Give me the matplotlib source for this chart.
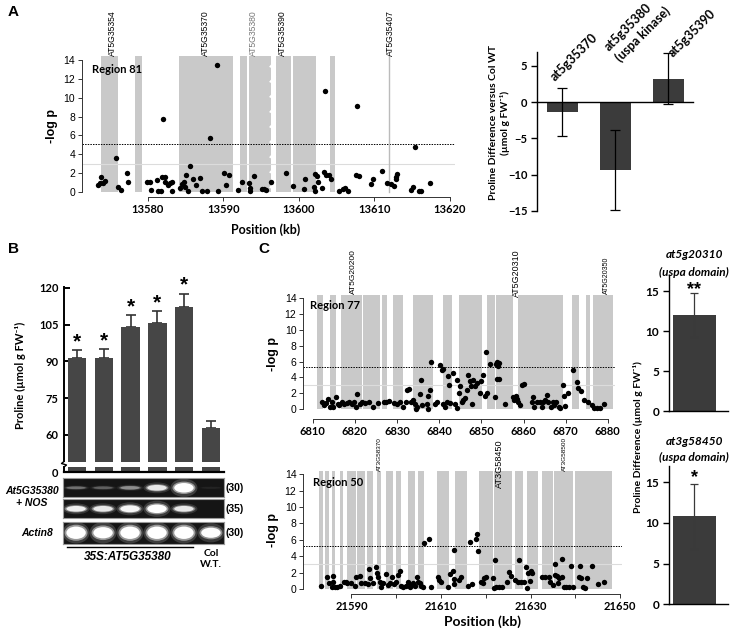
import numpy as np
import matplotlib.pyplot as plt
from matplotlib.patches import Ellipse
from matplotlib.lines import Line2D

# ---------------- datos ----------------
# Panel A (region 81): posicion (kb) y -log p
pos_a = [13573.47, 13573.64, 13573.82, 13574.04, 13574.35, 13575.81, 13576.03, 13576.42,
         13577.31, 13577.35, 13579.96, 13580.26, 13580.40, 13581.24, 13581.37, 13581.77,
         13581.90, 13582.08, 13582.25, 13582.34, 13582.69, 13582.91, 13583.27, 13583.27,
         13584.24, 13584.59, 13584.81, 13584.94, 13585.12, 13585.34, 13585.56, 13586.00,
         13586.45, 13586.89, 13587.20, 13587.86, 13588.30, 13589.14, 13589.36, 13590.15,
         13590.42, 13590.77, 13592.00, 13592.50, 13593.43, 13593.60, 13593.51, 13594.09,
         13595.15, 13595.37, 13595.72, 13596.38, 13598.28, 13599.25, 13600.71, 13600.89,
         13602.03, 13602.12, 13602.21, 13602.48, 13602.61, 13603.09, 13603.32, 13603.49,
         13603.58, 13604.02, 13604.24, 13605.30, 13605.88, 13606.14, 13606.54, 13607.55,
         13607.77, 13607.99, 13609.63, 13609.85, 13611.09, 13611.70, 13612.19, 13612.59,
         13612.85, 13613.07, 13612.94, 13614.84, 13615.15, 13615.46, 13615.90, 13616.21,
         13617.35]
logp_a = [0.78, 0.96, 1.56, 0.99, 1.21, 3.65, 0.53, 0.18,
          1.99, 1.03, 1.06, 1.06, 0.18, 1.24, 0.11, 0.11,
          1.60, 7.77, 1.60, 1.06, 0.71, 0.96, 1.06, 0.11,
          0.43, 0.89, 1.06, 0.53, 1.77, 0.07, 2.77, 1.42,
          0.71, 1.52, 0.11, 0.11, 5.78, 13.44, 0.11, 2.02,
          0.78, 1.77, 0.18, 1.06, 0.96, 0.46, 0.11, 1.70,
          0.35, 0.28, 0.25, 1.06, 2.02, 0.60, 0.35, 1.42,
          0.53, 0.11, 1.88, 1.67, 1.06, 0.46, 2.09, 10.71,
          1.81, 1.81, 1.42, 0.11, 0.35, 0.46, 0.11, 1.77,
          9.11, 1.70, 0.89, 1.35, 2.27, 0.96, 0.82, 0.64,
          1.60, 1.95, 1.42, 0.18, 0.53, 4.72, 0.11, 0.07,
          0.96]
genes_a = [(13573.87, 13576.05), (13578.37, 13579.25), (13584.15, 13591.30),
           (13592.28, 13593.15), (13593.40, 13596.36), (13596.95, 13599.00),
           (13599.25, 13602.34), (13604.20, 13604.80)]
nombres_a = ['AT5G35354', 'AT5G35370', 'AT5G35380', 'AT5G35390', 'AT5G35407']
xnombres_a = [13575.4, 13587.6, 13594.0, 13597.9, 13612.1]
linea_a = 13611.96

# Panel A derecha
genes_bar_a = ['at5g35370', 'at5g35380\n(uspa kinase)', 'at5g35390']
dif_a = [-1.4, -9.3, 3.2]
err_a = [3.3, 5.5, 3.5]

# Panel B
prolina_b = [91.3, 91.3, 104.2, 105.7, 112.4, 63.0]
err_b = [3.2, 3.8, 4.6, 4.7, 5.3, 2.7]
sig_b = ['*', '*', '*', '*', '*', '']
gel_intensidad = [[0.25, 0.2, 0.35, 0.75, 1.0, 0.04],
                  [0.8, 0.75, 0.85, 0.95, 0.75, 0.0],
                  [1.0, 1.0, 1.0, 1.0, 1.0, 0.9]]
gel_alto = [[0.14, 0.14, 0.18, 0.3, 0.5, 0.1],
            [0.3, 0.3, 0.36, 0.45, 0.3, 0.0],
            [0.55, 0.5, 0.55, 0.55, 0.55, 0.45]]
gel_ciclos = ['(30)', '(35)', '(30)']

# Panel C arriba (region 77)
pos_c1 = [6812.1, 6812.7, 6813.2, 6813.7, 6814.1, 6814.5, 6814.9, 6815.5, 6815.9, 6816.3,
          6816.9, 6817.4, 6818.1, 6818.6, 6819.3, 6819.8, 6820.3, 6820.6, 6821.1, 6821.6,
          6822.4, 6823.4, 6824.2, 6825.6, 6826.8, 6827.4, 6828.0, 6829.3, 6829.9, 6830.7,
          6831.5, 6832.1, 6832.3, 6832.9, 6833.2, 6833.7, 6834.3, 6834.4, 6834.7, 6835.5,
          6835.7, 6835.9, 6837.0, 6837.3, 6837.4, 6837.8, 6838.0, 6839.0, 6839.4, 6840.1,
          6840.6, 6841.0, 6840.8, 6841.4, 6841.8, 6842.2, 6842.3, 6842.6, 6843.2, 6843.8,
          6844.2, 6844.3, 6844.7, 6845.0, 6845.4, 6845.7, 6846.1, 6846.5, 6846.9, 6847.3,
          6847.5, 6847.7, 6848.1, 6848.5, 6848.9, 6849.7, 6849.9, 6850.5, 6850.9, 6851.1,
          6851.4, 6852.1, 6853.5, 6853.8, 6854.2, 6854.0, 6853.6, 6854.3, 6853.2, 6855.6,
          6857.6, 6857.8, 6858.2, 6858.5, 6858.8, 6859.2, 6859.6, 6860.1, 6862.0, 6862.3,
          6862.5, 6863.1, 6863.8, 6864.3, 6864.7, 6865.1, 6865.5, 6865.9, 6866.5, 6866.9,
          6867.2, 6867.7, 6868.3, 6868.7, 6869.3, 6869.5, 6869.9, 6870.6, 6871.7, 6872.6,
          6873.0, 6873.6, 6874.4, 6875.4, 6876.2, 6876.7, 6877.4, 6878.2, 6879.1]
logp_c1 = [0.85, 0.55, 0.76, 1.27, 0.34, 0.85, 0.34, 1.52, 0.68, 0.55,
           0.85, 0.63, 0.76, 0.97, 0.68, 0.85, 0.34, 1.95, 0.63, 0.97,
           0.76, 0.97, 0.25, 0.76, 0.85, 0.97, 1.06, 0.76, 0.63, 0.85,
           0.25, 0.85, 2.45, 2.58, 0.97, 1.18, 0.63, 0.05, 0.34, 1.95,
           3.72, 0.55, 0.63, 0.05, 1.69, 2.37, 5.92, 0.68, 0.97, 5.54,
           4.99, 5.12, 0.68, 0.34, 0.97, 4.15, 3.00, 0.76, 4.57, 0.63,
           3.64, 0.21, 2.03, 2.88, 0.97, 1.18, 1.40, 2.45, 4.36, 3.55,
           2.88, 0.68, 3.72, 2.88, 3.30, 2.03, 3.51, 4.27, 1.61, 7.19,
           2.03, 5.75, 5.75, 5.92, 5.84, 5.41, 3.80, 3.80, 1.48, 0.63,
           1.48, 1.18, 1.69, 1.27, 0.85, 0.55, 3.00, 3.17, 0.97, 1.48,
           0.34, 0.97, 0.85, 0.34, 0.97, 1.18, 1.82, 0.97, 0.34, 0.97,
           0.55, 0.97, 0.34, 0.13, 3.00, 1.61, 0.42, 2.03, 4.90, 3.38,
           2.66, 2.24, 1.18, 0.85, 0.55, 0.21, 0.21, 0.13, 0.63]
genes_c1 = [(6810.95, 6812.37), (6814.1, 6815.46), (6816.7, 6821.6), (6821.9, 6826.0),
            (6826.5, 6827.6), (6829.1, 6831.5), (6833.7, 6838.5), (6841.0, 6843.0),
            (6844.7, 6850.1), (6851.4, 6853.2), (6853.5, 6857.6), (6858.8, 6869.3),
            (6871.6, 6873.2), (6874.8, 6875.8), (6876.6, 6881.3)]
nombres_c1 = ['AT5G20200', 'AT5G20310', 'AT5G20350']
xnombres_c1 = [6819.6, 6858.4, 6879.75]

# Panel C abajo (region 50)
pos_c2 = [21583.3, 21584.6, 21585.0, 21585.6, 21585.8, 21585.9, 21586.3, 21586.8, 21587.4, 21588.3,
          21588.7, 21589.0, 21589.8, 21590.7, 21591.1, 21591.9, 21592.2, 21593.0, 21593.7, 21593.9,
          21594.2, 21594.8, 21595.4, 21595.7, 21595.9, 21596.3, 21596.7, 21597.0, 21597.8, 21598.1,
          21598.5, 21599.1, 21599.4, 21600.0, 21600.4, 21600.9, 21601.1, 21601.6, 21602.1, 21602.6,
          21603.0, 21603.3, 21603.7, 21604.1, 21604.6, 21604.8, 21605.2, 21605.6, 21605.9, 21606.3,
          21607.4, 21607.8, 21609.3, 21609.6, 21610.0, 21611.5, 21611.9, 21612.6, 21613.0, 21612.8,
          21613.0, 21614.1, 21614.4, 21616.1, 21616.4, 21616.9, 21617.8, 21618.1, 21618.2, 21618.9,
          21619.3, 21620.0, 21621.5, 21622.1, 21622.2, 21619.6, 21621.8, 21622.9, 21623.5, 21624.8,
          21625.2, 21625.7, 21626.6, 21627.2, 21627.4, 21627.8, 21628.5, 21628.9, 21629.2, 21629.5,
          21629.8, 21630.0, 21630.4, 21632.6, 21633.3, 21634.1, 21634.4, 21635.0, 21635.4, 21635.5,
          21635.9, 21636.1, 21636.4, 21636.9, 21637.0, 21637.4, 21637.9, 21638.5, 21639.1, 21639.4,
          21640.7, 21641.1, 21641.3, 21641.8, 21642.2, 21642.6, 21643.7, 21645.0, 21646.3]
logp_c2 = [0.40, 1.50, 0.70, 0.30, 1.60, 0.90, 0.30, 0.30, 0.40, 0.90,
           0.90, 0.70, 0.70, 0.37, 1.50, 1.60, 0.70, 0.70, 0.60, 2.45,
           1.30, 0.70, 2.70, 2.00, 1.50, 0.90, 0.30, 0.70, 1.80, 0.50,
           0.70, 1.50, 0.60, 0.90, 1.70, 2.20, 0.40, 0.30, 0.40, 0.90,
           0.30, 0.50, 0.70, 0.40, 1.40, 0.90, 0.70, 0.40, 0.30, 5.60,
           6.10, 0.30, 1.50, 1.10, 0.80, 0.30, 1.80, 2.20, 4.75, 1.20,
           0.60, 1.10, 1.50, 0.37, 5.70, 0.60, 6.05, 6.70, 4.67, 0.90,
           0.70, 1.50, 1.30, 3.50, 0.20, 1.30, 0.10, 0.20, 0.20, 0.90,
           2.10, 1.60, 1.10, 0.80, 3.50, 0.90, 0.90, 2.70, 0.10, 1.90,
           1.00, 2.20, 2.00, 1.50, 1.50, 1.50, 0.80, 0.50, 3.00, 1.70,
           1.60, 0.70, 1.30, 3.60, 1.50, 0.30, 0.30, 0.30, 2.80, 0.30,
           1.50, 2.80, 1.30, 0.30, 0.10, 1.30, 2.80, 0.60, 0.80]
genes_c2 = [(21582.7, 21583.7), (21584.1, 21585.0), (21585.6, 21586.4), (21587.4, 21588.1),
            (21589.1, 21591.0), (21591.2, 21593.0), (21593.5, 21594.8), (21595.6, 21596.7),
            (21597.8, 21599.2), (21600.0, 21601.1), (21602.6, 21604.1), (21604.8, 21606.1),
            (21609.2, 21611.8), (21613.1, 21615.9), (21618.4, 21621.5), (21621.8, 21625.9),
            (21626.5, 21628.4), (21629.1, 21631.7), (21632.6, 21635.0), (21635.2, 21639.5),
            (21639.8, 21645.2), (21645.3, 21648.1)]
nombres_c2 = ['AT3G58370', 'AT3G58450', 'AT3G58500']
xnombres_c2 = [21596.3, 21623.0, 21637.6]

# Panel C derecha
titulos_c = ['at5g20310\n(uspa domain)', 'at3g58450\n(uspa domain)']
dif_c = [12.0, 10.8]
err_c = [2.75, 4.0]
sig_c = ['**', '*']

# ---------------- figura ----------------
W, H = 737, 630
fig = plt.figure(figsize=(W / 100, H / 100), dpi=100)
R_FONT = ['Liberation Sans', 'DejaVu Sans']
X_FONT = ['Lato', 'DejaVu Sans']
GRIS = '#c9c9c9'
BARRA = '#3b3b3b'


def ejes(x0, y0, x1, y1):
    # ejes dados en pixeles de la imagen
    return fig.add_axes([x0 / W, 1 - y1 / H, (x1 - x0) / W, (y1 - y0) / H])


def texto(x, y, s, **kw):
    return fig.text(x / W, 1 - y / H, s, **kw)


def manhattan(ax, pos, logp, genes, nombres, xnombres, tam_nombres, y_nombres,
              umbral, region, xregion, xlim, ylim, xticks, xlabels):
    for a, b in genes:
        ax.bar(a, 14.4, width=b - a, align='edge', color=GRIS, linewidth=0, zorder=1)
    ax.axhline(3.0, color='#dcdcdc', lw=0.8, zorder=2)
    ax.axhline(umbral, color='k', lw=0.7, ls=(0, (1.5, 1.2)), zorder=2)
    ax.scatter(pos, logp, s=15, c='k', linewidths=0, zorder=3)
    for nom, xn, tam, yn in zip(nombres, xnombres, tam_nombres, y_nombres):
        ax.text(xn, yn, nom, rotation=90, ha='center', va='bottom', fontsize=tam,
                family=R_FONT, color='k', clip_on=False)
    ax.text(xregion, 13.0, region, fontsize=8, fontweight='bold', family=X_FONT,
            va='center', ha='left')
    ax.set_xlim(*xlim)
    ax.set_ylim(*ylim)
    ax.set_yticks(range(0, 15, 2))
    ax.set_xticks(xticks)
    ax.set_xticklabels(xlabels)
    for s in ['top', 'right']:
        ax.spines[s].set_visible(False)
    ax.spines['left'].set_bounds(0, 14)
    ax.spines['bottom'].set_bounds(xticks[0], xticks[-1])
    for s in ['left', 'bottom']:
        ax.spines[s].set_linewidth(0.7)
        ax.spines[s].set_color('#333333')
    ax.tick_params(axis='both', direction='out', length=3, width=0.7, color='#333333')
    ax.tick_params(axis='y', labelsize=7.5, pad=2)
    ax.tick_params(axis='x', labelsize=8, pad=2)
    for t in ax.get_yticklabels():
        t.set_family(R_FONT)
    for t in ax.get_xticklabels():
        t.set_family(X_FONT)
        t.set_fontweight('bold')
    ax.set_ylabel('-log p', fontsize=9, fontweight='bold', family=R_FONT, labelpad=4)


# ---- A izquierda ----
axA = ejes(82, 55, 455, 197)
manhattan(axA, pos_a, logp_a, genes_a, nombres_a, xnombres_a, [6.2] * 5, [14.45] * 5,
          5.1, 'Region 81', 13572.6, (13571.3, 13620.7), (-0.53, 14.53),
          [13580, 13590, 13600, 13610, 13620], ['13580', '13590', '13600', '13610', '13620'])
axA.texts[2].set_color('#777777')
axA.plot([linea_a, linea_a], [0, 14.4], color='#bbbbbb', lw=1.0, zorder=2)
xcorte = 13596.55
for yc in np.arange(0.5, 14.0, 1.6):
    axA.plot([xcorte - 0.3, xcorte + 0.3], [yc, yc + 0.55], color='white', lw=1.3, zorder=2)
texto(266, 230, 'Position (kb)', ha='center', va='center', fontsize=9,
      fontweight='bold', family=X_FONT)
texto(8, 12, 'A', fontsize=11, fontweight='bold', family=R_FONT, va='center')

# ---- A derecha ----
axA2 = ejes(537, 52, 693, 211)
xa = np.arange(len(dif_a))
axA2.bar(xa, dif_a, width=0.585, color=BARRA, zorder=2)
axA2.errorbar(xa, dif_a, yerr=err_a, fmt='none', ecolor='k', elinewidth=0.9,
              capsize=3.5, capthick=0.9, zorder=3)
axA2.set_xlim(-0.48, 2.47)
axA2.set_ylim(-15, 6.9)
axA2.set_yticks([5, 0, -5, -10, -15])
axA2.set_xticks([])
axA2.spines['top'].set_visible(False)
axA2.spines['right'].set_visible(False)
axA2.spines['bottom'].set_position(('data', 0))
axA2.spines['left'].set_linewidth(1.0)
axA2.spines['bottom'].set_linewidth(1.0)
axA2.tick_params(axis='y', direction='out', length=4, width=1.0, labelsize=8, pad=3)
for t in axA2.get_yticklabels():
    t.set_family(X_FONT)
    t.set_fontweight('bold')
# cada linea de la etiqueta por separado (la ultima es la mas baja)
pos_etq = [[(-0.1, 2.6)], [(0.92, 6.75), (1.12, 5.3)], [(2.12, 6.0)]]
for anclas, g in zip(pos_etq, genes_bar_a):
    for (xe, ye), linea in zip(anclas, g.split('\n')):
        axA2.text(xe, ye, linea, rotation=45, rotation_mode='anchor', ha='left',
                  va='bottom', fontsize=9.0, fontweight='bold', family=X_FONT,
                  clip_on=False)
texto(499, 123, 'Proline Difference versus Col WT\n(µmol g FW⁻¹)', rotation=90,
      ha='center', va='center', fontsize=7.5, fontweight='bold', family=X_FONT,
      linespacing=1.25)

# ---- B ----
xb = np.arange(len(prolina_b))
axB = ejes(64, 286, 224, 461.7)
axB.bar(xb, prolina_b, width=0.68, color='#464646', zorder=2)
axB.errorbar(xb, prolina_b, yerr=[np.zeros(len(err_b)), err_b], fmt='none',
             ecolor='#333333', elinewidth=1.2, capsize=3.5, capthick=1.2, zorder=1)
for xi, v, e, s in zip(xb, prolina_b, err_b, sig_b):
    axB.text(xi, v + e - 0.5, s, ha='center', va='bottom', fontsize=15,
             fontweight='bold', family=R_FONT)
axB.set_xlim(-0.485, 5.485)
axB.set_ylim(49.1, 120.8)
axB.set_yticks([60, 75, 90, 105, 120])
axB.set_xticks([])
for s in ['top', 'right', 'bottom']:
    axB.spines[s].set_visible(False)
axB.spines['left'].set_bounds(49.5, 120.3)
axB.spines['left'].set_linewidth(1.4)
axB.tick_params(axis='y', direction='in', length=4, width=1.4, labelsize=8, pad=4)
for t in axB.get_yticklabels():
    t.set_family(X_FONT)
    t.set_fontweight('bold')

axB0 = ejes(64, 466.5, 224, 472.3)
axB0.bar(xb, prolina_b, width=0.68, color='#464646', zorder=2)
axB0.set_xlim(-0.485, 5.485)
axB0.set_ylim(0, 2)
axB0.set_yticks([0])
axB0.set_xticks([])
for s in ['top', 'right']:
    axB0.spines[s].set_visible(False)
axB0.spines['left'].set_linewidth(1.4)
axB0.spines['bottom'].set_linewidth(1.6)
axB0.tick_params(axis='y', direction='in', length=4, width=1.4, labelsize=8, pad=4)
for t in axB0.get_yticklabels():
    t.set_family(X_FONT)
    t.set_fontweight('bold')
# corte del eje
fig.add_artist(Line2D(np.array([64, 61.5, 66.5, 64]) / W,
                      1 - np.array([461.5, 463.5, 465.0, 467.0]) / H,
                      color='k', lw=1.0))
texto(20, 375, 'Proline (µmol g FW⁻¹)', rotation=90, ha='center', va='center',
      fontsize=8, fontweight='bold', family=X_FONT)
texto(8, 249, 'B', fontsize=11, fontweight='bold', family=R_FONT, va='center')

# geles
filas_gel = [(478.3, 497.3), (499.3, 518.3), (521.5, 544.0)]
for (y0, y1), inten, alto, cic in zip(filas_gel, gel_intensidad, gel_alto, gel_ciclos):
    axg = ejes(63, y0, 224, y1)
    axg.set_facecolor('#151515')
    axg.set_xlim(-0.485, 5.485)
    axg.set_ylim(0, 1)
    axg.set_xticks([])
    axg.set_yticks([])
    for s in axg.spines.values():
        s.set_color('#9a9a9a')
        s.set_linewidth(0.8)
    for xi, v, h in zip(xb, inten, alto):
        if v <= 0:
            continue
        axg.add_patch(Ellipse((xi, 0.5), 1.0, min(h * 1.9, 0.95), facecolor='#8a8a8a',
                              alpha=0.35 * v, linewidth=0))
        axg.add_patch(Ellipse((xi, 0.5), 0.85, h * 1.3, facecolor='#d8d8d8',
                              alpha=0.6 * v, linewidth=0))
        axg.add_patch(Ellipse((xi, 0.5), 0.72, h, facecolor='white',
                              alpha=min(1.0, 1.1 * v), linewidth=0))
    texto(226, (y0 + y1) / 2, cic, ha='left', va='center', fontsize=7.5,
          fontweight='bold', family=R_FONT)
texto(32, 497, 'At5G35380\n+ NOS', ha='center', va='center', fontsize=7.5,
      fontweight='bold', style='italic', family=R_FONT, linespacing=1.15)
texto(37, 533, 'Actin8', ha='center', va='center', fontsize=7.5,
      fontweight='bold', style='italic', family=R_FONT)
fig.add_artist(Line2D([67 / W, 193 / W], [1 - 546.7 / H] * 2, color='k', lw=1.0))
texto(128, 557, '35S:AT5G35380', ha='center', va='center', fontsize=8.5,
      fontweight='bold', style='italic', family=R_FONT)
texto(211, 559, 'Col\nW.T.', ha='center', va='center', fontsize=7.5,
      fontweight='bold', family=X_FONT, linespacing=1.25)

# ---- C ----
texto(258, 249, 'C', fontsize=11, fontweight='bold', family=R_FONT, va='center')
axC1 = ejes(303.3, 290, 615, 419)
manhattan(axC1, pos_c1, logp_c1, genes_c1, nombres_c1, xnombres_c1, [6.0, 6.4, 5.0],
          [14.45, 14.1, 14.45], 5.3, 'Region 77', 6809.4, (6807.77, 6881.7),
          (-1.23, 15.0), list(range(6810, 6881, 10)), [str(v) for v in range(6810, 6881, 10)])

axC2 = ejes(303.3, 466, 622, 594.3)
ticks_c2 = list(range(21590, 21651, 10))
etq_c2 = [str(v) if (v - 21590) % 20 == 0 else '' for v in ticks_c2]
manhattan(axC2, pos_c2, logp_c2, genes_c2, nombres_c2, xnombres_c2, [4.6, 6.6, 4.6],
          [14.45, 12.3, 14.45], 5.3, 'Region 50', 21581.4, (21579.25, 21650.4),
          (-0.65, 15.0), ticks_c2, etq_c2)
texto(483, 622, 'Position (kb)', ha='center', va='center', fontsize=10,
      fontweight='bold', family=X_FONT)

# ---- C derecha ----
cajas_c = [(669, 275, 728, 411), (669, 466, 728, 604.3)]
y_titulos = [(19.5, 17.3), (20.0, 18.0)]
y_sig = [16.25, 16.6]
for (x0, y0, x1, y1), tit, v, e, s, (yt1, yt2), ys in zip(cajas_c, titulos_c, dif_c, err_c,
                                                           sig_c, y_titulos, y_sig):
    ax = ejes(x0, y0, x1, y1)
    ax.bar([0.43], [v], width=0.73, color=BARRA, zorder=2)
    ax.errorbar([0.43], [v], yerr=[e], fmt='none', ecolor='#3a3a3a', elinewidth=0.9,
                capsize=3, capthick=0.9, zorder=3)
    ax.text(0.43, ys, s, ha='center', va='top', fontsize=13,
            fontweight='bold', family=R_FONT, clip_on=False)
    l1, l2 = tit.split('\n')
    ax.text(0.43, yt1, l1, ha='center', va='center', fontsize=8.5, fontweight='bold',
            style='italic', family=X_FONT, clip_on=False)
    ax.text(0.43, yt2, l2, ha='center', va='center', fontsize=8.5, fontweight='bold',
            style='italic', family=X_FONT, clip_on=False)
    ax.set_xlim(0, 1)
    ax.set_ylim(0, 17)
    ax.set_yticks([0, 5, 10, 15])
    ax.set_xticks([])
    ax.spines['top'].set_visible(False)
    ax.spines['right'].set_visible(False)
    ax.spines['left'].set_linewidth(1.0)
    ax.spines['bottom'].set_linewidth(1.0)
    ax.tick_params(axis='y', direction='out', length=4, width=1.0, labelsize=8.5, pad=3)
    for t in ax.get_yticklabels():
        t.set_family(X_FONT)
        t.set_fontweight('bold')
texto(638, 437, 'Proline Difference (µmol g FW⁻¹)', rotation=90, ha='center',
      va='center', fontsize=7.5, fontweight='bold', family=X_FONT)

fig.savefig('out.png', dpi=100)
